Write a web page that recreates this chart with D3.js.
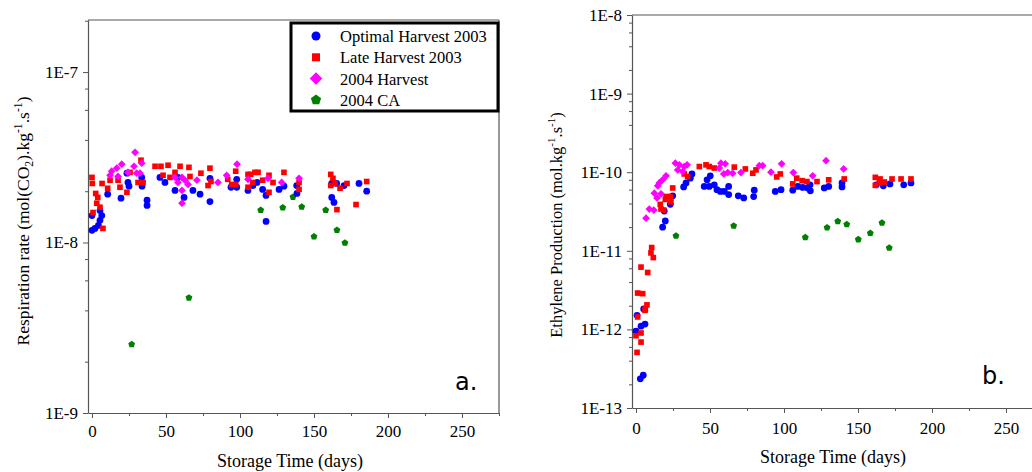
<!DOCTYPE html>
<html><head><meta charset="utf-8">
<script src="https://cdn.jsdelivr.net/npm/d3@7/dist/d3.min.js"></script>
<style>body{margin:0;background:#fff}svg{display:block}</style>
</head><body>
<svg id="c" width="1032" height="472"></svg>
<script>
// ---------- DATA ----------
const xTicks = [0, 50, 100, 150, 200, 250];
const xMinorTicks = [25, 75, 125, 175, 225, 275];
const resTickLabels = ["1E-9", "1E-8", "1E-7"];
const ethTickLabels = ["1E-13", "1E-12", "1E-11", "1E-10", "1E-9", "1E-8"];
const seriesNames = ["Optimal Harvest 2003", "Late Harvest 2003", "2004 Harvest", "2004 CA"];
const seriesColors = ["#0000ff", "#ff0000", "#ff00ff", "#008000"];

// Respiration rate (mol(CO2).kg-1.s-1) : [day, value]
const resOptimal = [[0,1.18e-8],[2,1.21e-8],[4.3,1.26e-8],[5.4,1.35e-8],[6.6,1.44e-8],[0,1.44e-8],[5.4,1.54e-8],[10.6,1.92e-8],[19.6,1.82e-8],[24.3,2.25e-8],[25,2.14e-8],[23.6,2.55e-8],[33.8,2.14e-8],[33.6,2.41e-8],[37.2,1.77e-8],[37.2,1.65e-8],[45.9,2.41e-8],[49.3,2.25e-8],[56.1,2.02e-8],[62.2,1.84e-8],[68.2,2.02e-8],[73,1.92e-8],[58.1,2.41e-8],[79.7,1.74e-8],[79.7,2.38e-8],[93.9,2.11e-8],[97.8,2.11e-8],[97.8,2.35e-8],[105.4,2.02e-8],[108.8,2.16e-8],[111.5,2.25e-8],[115.3,2.05e-8],[117.6,1.89e-8],[126.4,2.05e-8],[129.7,2.14e-8],[117.6,1.33e-8],[138.5,1.94e-8],[138.3,2.16e-8],[162,2.22e-8],[165.3,2.22e-8],[170.3,2.16e-8],[162,1.84e-8],[163.5,1.72e-8],[180.4,2.22e-8],[185.6,2.0e-8]];
const resLate = [[0,2.41e-8],[0.2,2.22e-8],[2.5,1.94e-8],[3.9,1.84e-8],[3.2,1.7e-8],[5.4,1.61e-8],[0.7,1.5e-8],[7.4,1.21e-8],[6.8,2.22e-8],[10.6,2.08e-8],[12.2,2.32e-8],[17.6,2.32e-8],[18.9,2.11e-8],[23.6,1.97e-8],[25.7,2.58e-8],[31.1,2.25e-8],[33.1,3.04e-8],[34.5,2.25e-8],[42.6,2.8e-8],[46.6,2.8e-8],[51.4,2.84e-8],[48,2.48e-8],[52.7,2.41e-8],[56.1,2.58e-8],[59.5,2.8e-8],[65.5,2.76e-8],[66.2,2.44e-8],[73.6,2.55e-8],[79.7,2.73e-8],[78.4,2.16e-8],[80.4,2.28e-8],[91.7,2.35e-8],[94.4,2.19e-8],[97.1,2.19e-8],[97.1,2.62e-8],[105.4,2.51e-8],[107.2,2.51e-8],[110.1,2.58e-8],[112.2,2.58e-8],[108.6,2.25e-8],[105.4,2.11e-8],[115.3,2.32e-8],[119.6,2.48e-8],[122.3,2.25e-8],[119.6,1.97e-8],[129.7,2.58e-8],[139.9,2.25e-8],[139.9,2.05e-8],[161.3,2.51e-8],[162.8,2.38e-8],[161.3,2.16e-8],[164.2,2.22e-8],[167.6,2.08e-8],[172.3,2.22e-8],[185.6,2.28e-8],[178.4,1.67e-8],[165.5,1.56e-8]];
const resH2004 = [[29.1,3.38e-8],[33.6,2.92e-8],[20.1,2.88e-8],[16.7,2.73e-8],[13.3,2.62e-8],[12.2,2.48e-8],[24.3,2.58e-8],[28.4,2.8e-8],[30.2,2.55e-8],[32.4,2.55e-8],[17.6,2.44e-8],[56.1,2.41e-8],[58.1,2.25e-8],[60.8,2.41e-8],[62.8,2.32e-8],[64.9,2.19e-8],[60.8,2.02e-8],[60.8,1.7e-8],[70.9,2.32e-8],[98,2.88e-8],[91,2.48e-8],[85.1,2.25e-8],[105.4,2.35e-8],[118.9,2.38e-8],[128.2,2.25e-8],[139.9,2.38e-8]];
const resCA = [[26.8,2.54e-9],[65.5,4.77e-9],[114,1.56e-8],[128.9,1.61e-8],[135.8,1.86e-8],[141.7,1.63e-8],[157.9,1.56e-8],[165.5,1.19e-8],[150,1.09e-8],[170.9,1.0e-8]];

// Ethylene production (mol.kg-1.s-1) : [day, value]
const ethOptimal = [[37.8,9.5e-11],[36.7,8.4e-11],[33.8,7.3e-11],[32.2,6.5e-11],[50.2,9.0e-11],[48,8.0e-11],[46.1,6.6e-11],[49.5,6.6e-11],[52.9,6.9e-11],[54.7,6.0e-11],[57,5.7e-11],[59.7,5.7e-11],[62.6,6.6e-11],[62.6,5.2e-11],[69.1,5.0e-11],[72.8,4.7e-11],[79.5,4.9e-11],[79.9,5.9e-11],[24.8,5.0e-11],[23.2,3.9e-11],[19.1,3.2e-11],[19.8,2.4e-11],[18,2.0e-11],[94.1,5.7e-11],[98,6.0e-11],[105.9,5.9e-11],[109.3,6.6e-11],[112.6,6.4e-11],[116,6.3e-11],[117.8,5.8e-11],[117.6,6.9e-11],[127.2,6.3e-11],[130.2,6.6e-11],[139.2,6.5e-11],[139.2,7.3e-11],[162.4,6.9e-11],[167.1,6.7e-11],[171.6,7.1e-11],[180.9,6.9e-11],[185.8,7.3e-11],[0.7,1.51e-12],[0,9.5e-13],[3.4,1.1e-12],[6.1,1.17e-12],[5.2,1.82e-12],[2.9,2.35e-13],[4.9,2.61e-13]];
const ethLate = [[42.8,1.18e-10],[47.3,1.24e-10],[49.5,1.18e-10],[52.9,1.13e-10],[66.4,1.16e-10],[73.9,1.1e-10],[81.1,1.07e-10],[78.9,9.7e-11],[32.6,9.5e-11],[34.9,8.8e-11],[24.8,6.3e-11],[20.3,4.9e-11],[23.2,4.9e-11],[19.8,4.5e-11],[23.6,4.2e-11],[16.4,3.9e-11],[16.9,3.4e-11],[18.7,3.3e-11],[10.6,1.1e-11],[10.1,9.4e-12],[11.7,8.2e-12],[3.4,6.2e-12],[7.9,5.3e-12],[1.1,2.9e-12],[4.5,2.85e-12],[7.4,2.05e-12],[6.3,1.82e-12],[6.1,1.75e-12],[1.1,1.44e-12],[3.4,9.0e-13],[0,8.3e-13],[3.4,6.9e-13],[0.7,5.1e-13],[95.1,8.7e-11],[97.5,9.5e-11],[105.9,7.1e-11],[108.6,8.4e-11],[112.2,7.8e-11],[115.5,7.6e-11],[122.3,7.6e-11],[130.2,8.0e-11],[140.7,8.2e-11],[161.7,8.6e-11],[164.9,8.2e-11],[167.8,7.5e-11],[161.7,6.8e-11],[173,8.2e-11],[179.1,8.2e-11],[185.8,8.2e-11],[164.4,7.3e-11]];
const ethH2004 = [[26.6,1.3e-10],[29.3,1.24e-10],[32.6,1.18e-10],[34.5,1.24e-10],[28.2,1.07e-10],[31.6,1.02e-10],[20.3,9.0e-11],[18,8.0e-11],[15.7,7.3e-11],[14.7,6.7e-11],[12.4,5.4e-11],[14.2,4.7e-11],[16.9,5.3e-11],[9,3.4e-11],[12,3.3e-11],[6.8,2.6e-11],[57.4,1.3e-10],[60.3,1.28e-10],[56.3,1.13e-10],[62,9.9e-11],[59.3,9.5e-11],[65.3,9.7e-11],[70.9,9.9e-11],[83.3,1.21e-10],[85.6,1.21e-10],[91.2,1.0e-10],[98.4,1.28e-10],[106.3,9.9e-11],[119.4,9.0e-11],[128.4,1.4e-10],[140.3,1.1e-10]];
const ethCA = [[27,1.57e-11],[66,2.1e-11],[114.4,1.5e-11],[129.1,2.0e-11],[136.3,2.4e-11],[142.4,2.2e-11],[150.2,1.41e-11],[158.3,1.7e-11],[166.2,2.3e-11],[171.1,1.1e-11]];

// ---------- DRAW ----------
const svg = d3.select("#c");
const SERIF = "'Liberation Serif','Times New Roman',serif";
const AXC = "#555";

function pentagon(r) {
  const pts = d3.range(5).map(i => {
    const a = -Math.PI / 2 + i * 2 * Math.PI / 5;
    return [r * Math.cos(a), r * Math.sin(a)];
  });
  return "M" + pts.map(p => p.join(",")).join("L") + "Z";
}
function markerPath(kind, big) {
  if (kind === 0) return d3.symbol(d3.symbolCircle, big ? 64 : 36)();
  if (kind === 1) return d3.symbol(d3.symbolSquare, big ? 64 : 32)();
  if (kind === 2) return d3.symbol(d3.symbolSquare, big ? 78 : 30)();
  return pentagon(big ? 5.4 : 3.6);
}
function drawMarkers(g, data, kind, x, y) {
  g.selectAll(null).data(data).enter().append("path")
    .attr("d", markerPath(kind, false))
    .attr("fill", seriesColors[kind])
    .attr("transform", d => `translate(${x(d[0])},${y(d[1])})` + (kind === 2 ? " rotate(45)" : "") + (kind === 3 ? " translate(0,0.4)" : ""));
}

function panel(opt) {
  const x = d3.scaleLinear().domain([-2.7, 275]).range([opt.x0, opt.x1]);
  const y = d3.scaleLog().domain(opt.ydom).range([opt.y1, opt.y0]);
  const g = svg.append("g");

  g.append("line").attr("x1", opt.x0).attr("x2", opt.x1).attr("y1", opt.y0).attr("y2", opt.y0)
    .attr("stroke", AXC).attr("stroke-width", 1.2);
  g.append("line").attr("x1", opt.x1).attr("x2", opt.x1).attr("y1", opt.y0).attr("y2", opt.y1)
    .attr("stroke", AXC).attr("stroke-width", 1.2);

  g.append("g").attr("transform", `translate(0,${opt.y1})`)
    .call(d3.axisBottom(x).tickValues(xTicks).tickSize(5).tickPadding(opt.xpad).tickSizeOuter(0));
  g.append("g").attr("transform", `translate(0,${opt.y1})`)
    .call(d3.axisBottom(x).tickValues(xMinorTicks).tickSize(3).tickFormat("").tickSizeOuter(0))
    .select(".domain").remove();
  const majors = opt.labels.map((l, i) => Math.pow(10, opt.e0 + i));
  g.append("g").attr("transform", `translate(${opt.x0},0)`)
    .call(d3.axisLeft(y).tickValues(majors).tickSize(5).tickPadding(5).tickSizeOuter(0)
      .tickFormat((d, i) => opt.labels[i]));
  const minors = [];
  majors.forEach(m => [2, 4, 6, 8].forEach(k => { if (m * k <= opt.ydom[1] * 0.999) minors.push(m * k); }));
  g.append("g").attr("transform", `translate(${opt.x0},0)`)
    .call(d3.axisLeft(y).tickValues(minors).tickSize(3).tickFormat("").tickSizeOuter(0))
    .select(".domain").remove();
  g.selectAll(".domain").attr("stroke", AXC).attr("stroke-width", 1.2);
  g.selectAll(".tick line").attr("stroke", AXC);
  g.selectAll("g").attr("font-family", null).attr("font-size", null);
  g.selectAll(".tick text").style("font-family", SERIF)
    .style("font-size", "17px").attr("fill", "#000");

  g.append("text").attr("x", opt.xtx).attr("y", opt.xty).attr("text-anchor", "middle")
    .style("font-family", SERIF).style("font-size", "18px").text("Storage Time (days)");
  const yt = g.append("text").attr("transform", `translate(${opt.ytx},${opt.yty}) rotate(-90)`)
    .attr("text-anchor", "middle").style("font-family", SERIF).style("font-size", opt.yfs + "px");
  const sf = opt.yfs * 0.67;
  opt.ytitle.forEach(p => {
    const t = yt.append("tspan").text(p[0]);
    if (p[1] === "sup") t.style("font-size", sf + "px").attr("dy", -opt.yfs * 0.4);
    if (p[1] === "sub") t.style("font-size", sf + "px").attr("dy", opt.yfs * 0.22);
    if (p[1] === "back") t.attr("dy", p[2] * opt.yfs);
  });
  g.append("text").attr("x", opt.lx).attr("y", opt.ly)
    .style("font-family", "'DejaVu Sans',sans-serif").style("font-size", "24px").text(opt.letter);

  [3, 0, 1, 2].forEach(k => drawMarkers(g.append("g"), opt.series[k], k, x, y));
  return g;
}

panel({
  x0: 88, x1: 499, y0: 20, y1: 413, ydom: [1e-9, 2.02e-7], e0: -9, labels: resTickLabels, xpad: 7,
  xtx: 290, xty: 467, ytx: 29, yty: 221, yfs: 17.5, lx: 455, ly: 390, letter: "a.",
  ytitle: [["Respiration rate (mol(CO"], ["2", "sub"], [").kg", "back", -0.22], ["-1", "sup"], [".s", "back", 0.4], ["-1", "sup"], [")", "back", 0.4]],
  series: [resOptimal, resLate, resH2004, resCA]
});
panel({
  x0: 632, x1: 1043, y0: 15, y1: 408, ydom: [1e-13, 1e-8], e0: -13, labels: ethTickLabels, xpad: 9,
  xtx: 833, xty: 463, ytx: 562, yty: 225, yfs: 16.5, lx: 982, ly: 384, letter: "b.",
  ytitle: [["Ethylene Production (mol.kg"], ["-1", "sup"], [".s", "back", 0.4], ["-1", "sup"], [")", "back", 0.4]],
  series: [ethOptimal, ethLate, ethH2004, ethCA]
});

const lg = svg.append("g");
lg.append("rect").attr("x", 291).attr("y", 23).attr("width", 207).attr("height", 88)
  .attr("fill", "#fff").attr("stroke", "#000").attr("stroke-width", 3);
seriesNames.forEach((n, i) => {
  const cy = 36 + i * 21.3;
  lg.append("path").attr("d", markerPath(i, true)).attr("fill", seriesColors[i])
    .attr("transform", `translate(316,${cy})` + (i === 2 ? " rotate(45)" : ""));
  lg.append("text").attr("x", 340).attr("y", cy + 6).style("font-family", SERIF)
    .style("font-size", "16.5px").text(n);
});
</script>
</body></html>
